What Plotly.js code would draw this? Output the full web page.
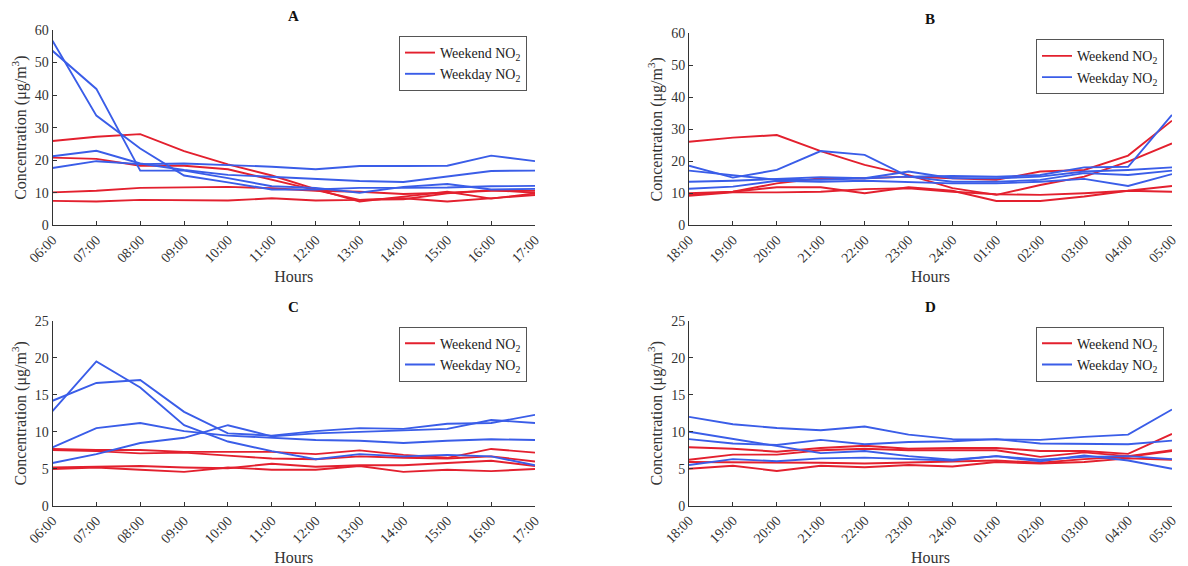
<!DOCTYPE html>
<html>
<head>
<meta charset="utf-8">
<script src="https://cdn.plot.ly/plotly-3.0.1.min.js"></script>
<style>html,body{margin:0;padding:0;background:#fff}#chart{width:1188px;height:566px}</style>
</head>
<body>
<div id="chart"></div>
<script>
// ---------- DATA ----------
const hoursDay = ["06:00","07:00","08:00","09:00","10:00","11:00","12:00","13:00","14:00","15:00","16:00","17:00"];
const hoursNight = ["18:00","19:00","20:00","21:00","22:00","23:00","24:00","01:00","02:00","03:00","04:00","05:00"];

const weekendA = [
  [25.9, 27.2, 28.0, 22.8, 18.7, 15.3, 11.1, 7.3, 8.8, 10.3, 8.2, 9.8],
  [20.8, 20.4, 18.3, 18.3, 17.2, 13.9, 10.8, 7.8, 8.0, 9.8, 10.8, 10.0],
  [10.1, 10.6, 11.5, 11.7, 11.8, 11.4, 10.6, 10.3, 9.6, 10.0, 10.6, 10.6],
  [7.5, 7.3, 7.8, 7.8, 7.6, 8.3, 7.6, 7.8, 8.3, 7.3, 8.3, 9.3]
];
const weekdayA = [
  [56.7, 33.7, 23.6, 15.3, 13.2, 11.0, 11.0, 11.5, 11.5, 11.6, 12.0, 12.1],
  [53.6, 41.9, 16.8, 16.8, 14.5, 12.0, 11.5, 10.0, 11.8, 12.7, 11.0, 11.2],
  [21.2, 22.9, 19.0, 17.0, 15.5, 14.9, 14.4, 13.6, 13.3, 14.9, 16.7, 16.8],
  [17.6, 19.7, 18.8, 19.0, 18.5, 18.0, 17.2, 18.2, 18.2, 18.3, 21.4, 19.7]
];
const weekendB = [
  [26.1, 27.4, 28.2, 23.2, 18.9, 15.7, 11.6, 9.5, 12.6, 15.2, 19.9, 25.6],
  [10.0, 10.5, 13.1, 14.7, 14.7, 15.2, 14.7, 14.2, 16.8, 17.3, 21.8, 32.7],
  [9.5, 10.5, 11.9, 11.9, 10.0, 11.9, 10.8, 7.6, 7.6, 9.0, 10.8, 10.5],
  [9.2, 10.3, 10.3, 10.5, 11.3, 11.6, 10.5, 9.7, 9.5, 10.0, 10.8, 12.3]
];
const weekdayB = [
  [18.6, 14.9, 17.3, 23.2, 22.0, 15.2, 15.4, 15.2, 15.7, 18.1, 18.3, 34.5],
  [17.1, 15.7, 14.2, 14.2, 14.7, 16.8, 14.7, 14.7, 15.2, 16.8, 17.3, 18.1],
  [13.6, 13.9, 14.5, 15.0, 14.7, 15.2, 13.6, 13.6, 14.2, 16.3, 15.7, 17.1],
  [11.4, 12.1, 13.9, 13.6, 13.9, 13.6, 13.1, 13.1, 13.6, 14.5, 12.3, 16.0]
];
const weekendC = [
  [7.7, 7.55, 7.55, 7.3, 7.3, 7.3, 7.0, 7.5, 6.9, 6.5, 7.7, 7.2],
  [7.55, 7.4, 7.1, 7.2, 6.8, 6.4, 6.3, 6.7, 6.5, 6.4, 6.7, 6.0],
  [5.2, 5.3, 5.4, 5.2, 5.1, 5.7, 5.3, 5.5, 5.5, 5.8, 6.1, 5.4],
  [5.0, 5.2, 4.9, 4.6, 5.2, 4.9, 4.9, 5.4, 4.6, 4.9, 4.7, 5.0]
];
const weekdayC = [
  [12.8, 19.5, 16.0, 10.9, 8.7, 7.4, 6.3, 7.0, 6.7, 6.9, 6.7, 5.5],
  [14.2, 16.6, 17.0, 12.7, 9.8, 9.5, 10.1, 10.5, 10.4, 11.1, 11.2, 12.3],
  [7.9, 10.5, 11.2, 10.1, 9.5, 9.2, 8.9, 8.8, 8.5, 8.8, 9.0, 8.9],
  [5.8, 7.0, 8.5, 9.2, 10.9, 9.4, 9.8, 10.0, 10.1, 10.4, 11.6, 11.2]
];
const weekendD = [
  [7.9, 7.7, 7.3, 7.8, 8.1, 7.7, 7.8, 7.8, 7.4, 7.4, 7.0, 9.7],
  [6.2, 6.9, 6.9, 7.5, 7.7, 7.5, 7.5, 7.5, 6.6, 7.2, 6.7, 7.5],
  [5.9, 5.9, 5.8, 5.8, 5.7, 5.8, 5.9, 6.1, 5.8, 6.3, 6.6, 7.4],
  [5.0, 5.4, 4.7, 5.4, 5.2, 5.5, 5.3, 5.9, 5.7, 5.9, 6.4, 6.2]
];
const weekdayD = [
  [12.0, 11.0, 10.5, 10.2, 10.7, 9.6, 9.0, 9.0, 8.9, 9.3, 9.6, 13.0],
  [10.0, 9.0, 8.1, 7.1, 7.4, 6.7, 6.2, 6.7, 6.0, 6.8, 6.1, 5.0],
  [9.0, 8.4, 8.2, 8.9, 8.3, 8.6, 8.7, 9.0, 8.4, 8.4, 8.3, 8.8],
  [5.5, 6.3, 6.0, 6.4, 6.5, 6.3, 6.1, 6.7, 6.2, 6.6, 6.7, 6.3]
];
const panelTitles = ["A", "B", "C", "D"];
const weekendName = "Weekend NO<sub>2</sub>";
const weekdayName = "Weekday NO<sub>2</sub>";

// ---------- STYLE ----------
const RED = "#e3202e";
const BLUE = "#3a5de8";
const FONT = "Liberation Serif, Times New Roman, serif";
const AXC = "#333333";
const W = 1188, H = 566;

const panels = [
  {x: hoursDay, wk: weekendA, wd: weekdayA, ymax: 60, dt: 10, xd: [52.5, 535], yd: [30, 225.3]},
  {x: hoursNight, wk: weekendB, wd: weekdayB, ymax: 60, dt: 10, xd: [689, 1172], yd: [33.3, 225.3]},
  {x: hoursDay, wk: weekendC, wd: weekdayC, ymax: 25, dt: 5, xd: [52.5, 535], yd: [320.7, 506]},
  {x: hoursNight, wk: weekendD, wd: weekdayD, ymax: 25, dt: 5, xd: [689, 1172], yd: [320.7, 505.7]}
];

const traces = [];
const layout = {
  width: W, height: H,
  margin: {l: 0, r: 0, t: 0, b: 0},
  paper_bgcolor: "#fff", plot_bgcolor: "#fff",
  font: {family: FONT, color: AXC, size: 14},
  showlegend: true,
  annotations: []
};

panels.forEach((p, i) => {
  const n = i + 1;
  const xa = "x" + (n === 1 ? "" : n), ya = "y" + (n === 1 ? "" : n);
  const lg = "legend" + (n === 1 ? "" : n);
  p.wk.forEach((s, k) => traces.push({
    type: "scatter", mode: "lines", x: p.x, y: s, xaxis: xa, yaxis: ya,
    line: {color: RED, width: 1.9}, name: weekendName, legend: lg,
    legendgroup: "wk" + n, showlegend: k === 0, hoverinfo: "x+y"
  }));
  p.wd.forEach((s, k) => traces.push({
    type: "scatter", mode: "lines", x: p.x, y: s, xaxis: xa, yaxis: ya,
    line: {color: BLUE, width: 1.9}, name: weekdayName, legend: lg,
    legendgroup: "wd" + n, showlegend: k === 0, hoverinfo: "x+y"
  }));
  const xkey = "xaxis" + (n === 1 ? "" : n), ykey = "yaxis" + (n === 1 ? "" : n);
  layout[xkey] = {
    domain: [p.xd[0] / W, p.xd[1] / W], anchor: ya,
    type: "category", categoryorder: "array", categoryarray: p.x,
    range: [0, 11], tickangle: -45, ticks: "inside", ticklen: 4, tickcolor: AXC,
    showline: true, linecolor: AXC, linewidth: 1, showgrid: false, zeroline: false,
    tickfont: {family: FONT, size: 14, color: AXC},
    title: {text: "Hours", font: {family: FONT, size: 16, color: AXC}, standoff: 6}
  };
  layout[ykey] = {
    domain: [(H - p.yd[1]) / H, (H - p.yd[0]) / H], anchor: xa,
    range: [0, p.ymax], dtick: p.dt, tick0: 0, ticks: "inside", ticklen: 4, tickcolor: AXC,
    showline: true, linecolor: AXC, linewidth: 1, showgrid: false, zeroline: false,
    tickfont: {family: FONT, size: 14, color: AXC},
    title: {text: "Concentration (μg/m<sup>3</sup>)", font: {family: FONT, size: 16, color: AXC}, standoff: 4}
  };
  layout[lg] = {
    x: (p.xd[1] - 8) / W, y: (H - (p.yd[0] + 6)) / H, xanchor: "right", yanchor: "top",
    xref: "paper", yref: "paper",
    bgcolor: "#fff", bordercolor: "#555", borderwidth: 1,
    font: {family: FONT, size: 14, color: "#222"}, itemwidth: 30, tracegroupgap: 0
  };
  layout.annotations.push({
    text: "<b>" + panelTitles[i] + "</b>", xref: "paper", yref: "paper",
    x: (p.xd[0] + p.xd[1]) / 2 / W, y: (H - (p.yd[0] - 14)) / H,
    xanchor: "center", yanchor: "middle", showarrow: false,
    font: {family: FONT, size: 15, color: "#111"}
  });
});

Plotly.newPlot("chart", traces, layout, {displayModeBar: false, staticPlot: true});
</script>
</body>
</html>
